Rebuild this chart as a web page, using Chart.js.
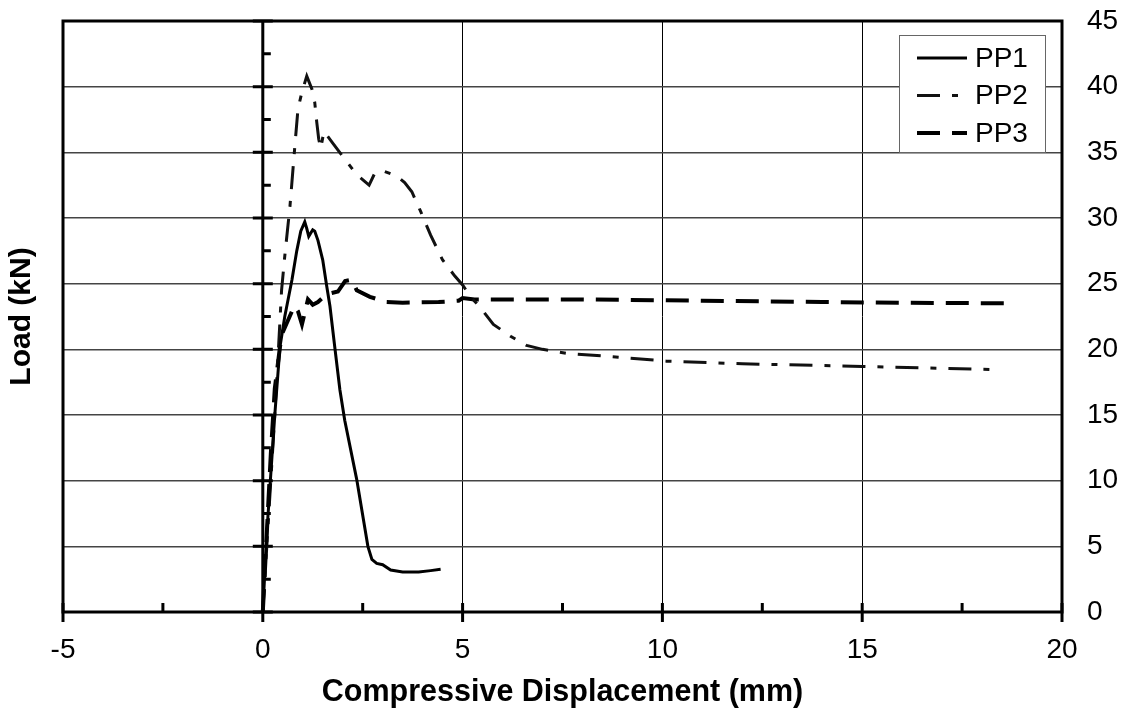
<!DOCTYPE html>
<html>
<head>
<meta charset="utf-8">
<script src="https://cdn.jsdelivr.net/npm/chart.js@4.4.1/dist/chart.umd.min.js"></script>
<style>
  html, body { margin: 0; padding: 0; background: #fff; }
  #wrap { width: 1130px; height: 719px; }
</style>
</head>
<body>
<div id="wrap"><canvas id="myChart" width="1130" height="719"></canvas></div>
<script>
// values (x = displacement mm, y = load kN)
const pp1X = [0, 0.05, 0.1, 0.2, 0.3, 0.43, 0.55, 0.73, 0.85, 0.95, 1.05, 1.1, 1.15, 1.25, 1.3, 1.38, 1.5, 1.6, 1.68, 1.8, 1.93, 2.05, 2.35, 2.63, 2.73, 2.85, 3.0, 3.2, 3.5, 3.9, 4.2, 4.45];
const pp1Y = [0, 3, 6, 10.5, 15, 20.2, 22.5, 25.3, 27.5, 29, 29.7, 29.2, 28.6, 29.1, 29.0, 28.3, 26.8, 24.8, 23.3, 20.2, 16.9, 14.6, 10.1, 5.0, 4.0, 3.7, 3.6, 3.2, 3.05, 3.05, 3.15, 3.25];

const pp2X = [0, 0.1, 0.2, 0.3, 0.4, 0.47, 0.55, 0.68, 0.8, 0.88, 0.98, 1.1, 1.23, 1.3, 1.35, 1.4, 1.45, 1.53, 1.75, 2.0, 2.35, 2.66, 2.8, 3.0, 3.35, 3.55, 3.73, 3.95, 4.2, 4.5, 4.8, 5.0, 5.2, 5.44, 5.77, 6.2, 6.6, 7.0, 7.6, 8.9, 10.1, 12, 15, 17, 18.4];
const pp2Y = [0, 5, 10, 15, 20.5, 24.5, 27.1, 30.9, 35.4, 38.3, 39.6, 40.8, 39.8, 38.8, 37.3, 36.0, 35.3, 36.6, 35.7, 34.7, 33.3, 32.5, 33.4, 33.6, 33.2, 32.7, 32.0, 30.5, 28.7, 26.8, 25.6, 24.9, 24.0, 23.2, 21.9, 21.0, 20.3, 20.0, 19.7, 19.4, 19.1, 18.9, 18.7, 18.55, 18.45];

const pp3X = [0, 0.1, 0.2, 0.3, 0.43, 0.5, 0.73, 0.78, 0.88, 0.98, 1.13, 1.25, 1.38, 1.6, 1.88, 2.06, 2.23, 2.35, 2.68, 3.1, 3.5, 4.4, 4.9, 5.0, 5.3, 8, 11, 14, 16, 18.75];
const pp3Y = [0, 6, 12, 17, 20.2, 21.3, 22.9, 23.3, 22.9, 21.9, 23.8, 23.4, 23.6, 24.2, 24.4, 25.2, 25.3, 24.5, 24.0, 23.6, 23.55, 23.6, 23.7, 23.9, 23.8, 23.8, 23.7, 23.6, 23.55, 23.5];

const seriesNames = ['PP1', 'PP2', 'PP3'];
const xTicks = [-5, 0, 5, 10, 15, 20];
const yTicks = [0, 5, 10, 15, 20, 25, 30, 35, 40, 45];

const FONT = "'Liberation Sans', Arial, sans-serif";

function toPoints(xs, ys){
  return xs.map((x, i) => ({x: x, y: ys[i]}));
}

// frame, the axis through x = 0 and the small tick marks
const axisPlugin = {
  id: 'axisMarks',
  beforeDatasetsDraw(chart){
    let ctx = chart.ctx;
    let a = chart.chartArea;
    let sx = chart.scales.x;
    let sy = chart.scales.y;
    let x0 = sx.getPixelForValue(0);
    ctx.save();
    ctx.strokeStyle = '#000';
    ctx.lineWidth = 3;
    ctx.strokeRect(a.left, a.top, a.right - a.left, a.bottom - a.top);

    ctx.beginPath();
    ctx.moveTo(x0, a.top);
    ctx.lineTo(x0, a.bottom);
    for(let v = 0; v <= 45; v += 2.5){
      let py = sy.getPixelForValue(v);
      if(v % 5 === 0){
        ctx.moveTo(x0 - 10, py); ctx.lineTo(x0 + 10, py);
      }else{
        ctx.moveTo(x0, py); ctx.lineTo(x0 + 8, py);
      }
    }
    for(let v = -5; v <= 20; v += 2.5){
      let px = sx.getPixelForValue(v);
      if(v % 5 === 0){
        ctx.moveTo(px, a.bottom - 9); ctx.lineTo(px, a.bottom + 10);
      }else{
        ctx.moveTo(px, a.bottom - 9); ctx.lineTo(px, a.bottom);
      }
    }
    ctx.stroke();
    ctx.restore();
  }
};

// legend box inside the plot, top right
const legendPlugin = {
  id: 'boxLegend',
  afterDraw(chart){
    let ctx = chart.ctx;
    let a = chart.chartArea;
    let bx = a.right - 163, by = a.top + 14, bw = 146, bh = 117;
    ctx.save();
    ctx.fillStyle = '#fff';
    ctx.fillRect(bx, by, bw, bh);
    ctx.strokeStyle = '#666';
    ctx.lineWidth = 1;
    ctx.strokeRect(bx + 0.5, by + 0.5, bw, bh);
    ctx.font = '28px ' + FONT;
    ctx.textBaseline = 'middle';
    ctx.fillStyle = '#000';
    chart.data.datasets.forEach((ds, i) => {
      let cy = by + 23 + i * 37.5;
      ctx.beginPath();
      ctx.setLineDash(ds.borderDash || []);
      ctx.lineWidth = ds.borderWidth;
      ctx.strokeStyle = ds.borderColor;
      ctx.moveTo(bx + 18, cy);
      ctx.lineTo(bx + 68, cy);
      ctx.stroke();
      ctx.setLineDash([]);
      ctx.fillText(ds.label, bx + 76, cy + 1);
    });
    ctx.restore();
  }
};

let chart = new Chart(document.getElementById('myChart'), {
  type: 'scatter',
  data: {
    datasets: [
      { label: seriesNames[0], data: toPoints(pp1X, pp1Y), borderColor: '#000', borderWidth: 3, borderDash: [] },
      { label: seriesNames[1], data: toPoints(pp2X, pp2Y), borderColor: '#111', borderWidth: 3, borderDash: [23, 12, 6, 12] },
      { label: seriesNames[2], data: toPoints(pp3X, pp3Y), borderColor: '#000', borderWidth: 4, borderDash: [23, 12] }
    ]
  },
  options: {
    responsive: false,
    animation: false,
    devicePixelRatio: 1,
    showLine: true,
    elements: { point: { radius: 0 }, line: { tension: 0, fill: false } },
    layout: { padding: { top: 21, left: 0, right: 0, bottom: 0 } },
    plugins: { legend: { display: false }, tooltip: { enabled: false } },
    scales: {
      x: {
        type: 'linear',
        position: 'bottom',
        min: xTicks[0],
        max: xTicks[xTicks.length - 1],
        afterBuildTicks: (s) => { s.ticks = xTicks.map(v => ({value: v})); },
        ticks: { font: { family: FONT, size: 28 }, color: '#000', padding: 21, maxRotation: 0 },
        grid: { color: '#000', lineWidth: 1, drawTicks: false },
        border: { display: false },
        title: {
          display: true,
          text: 'Compressive Displacement (mm)',
          font: { family: FONT, size: 30.5, weight: 'bold' },
          color: '#000',
          padding: { top: 0, bottom: 8 }
        },
        afterFit: (s) => { s.height = 107; }
      },
      y: {
        type: 'linear',
        position: 'right',
        min: yTicks[0],
        max: yTicks[yTicks.length - 1],
        afterBuildTicks: (s) => { s.ticks = yTicks.map(v => ({value: v})); },
        ticks: { font: { family: FONT, size: 28 }, color: '#000', padding: 25 },
        grid: { color: '#444', lineWidth: 1.5, drawTicks: false },
        border: { display: false },
        afterFit: (s) => { s.width = 68; s.paddingTop = 0; s.paddingBottom = 0; }
      },
      yl: {
        type: 'linear',
        position: 'left',
        min: 0,
        max: 45,
        ticks: { display: false },
        grid: { display: false, drawTicks: false },
        border: { display: false },
        title: {
          display: true,
          text: 'Load (kN)',
          font: { family: FONT, size: 30, weight: 'bold' },
          color: '#000',
          padding: { top: 4, bottom: 0 }
        },
        afterFit: (s) => { s.width = 63; }
      }
    }
  },
  plugins: [axisPlugin, legendPlugin]
});
</script>
</body>
</html>
